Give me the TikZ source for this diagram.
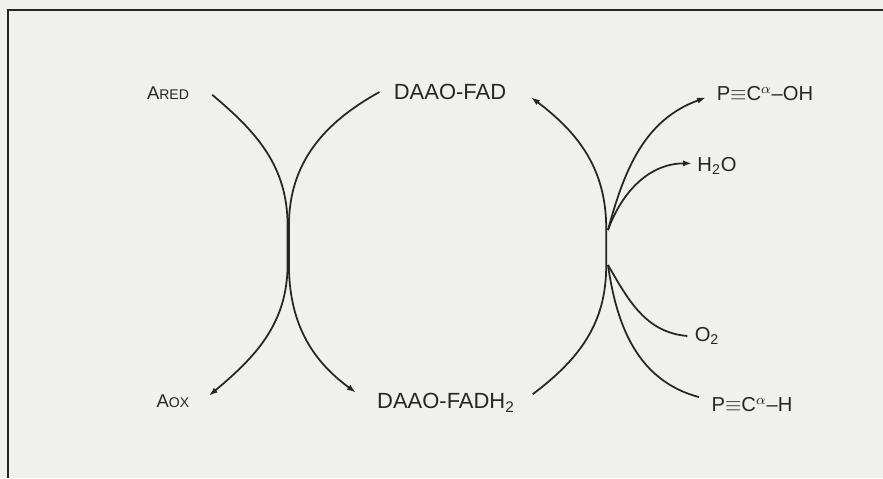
\documentclass[tikz,border=0pt]{standalone}
\usepackage{fontspec}
\setmainfont{Liberation Sans}
\usetikzlibrary{arrows.meta}
\definecolor{inkgray}{RGB}{38,38,38}
\definecolor{paper}{RGB}{240,240,238}
\tikzset{
  chem/.style={font=\fontsize{12.5}{14}\selectfont, text=inkgray, inner sep=1pt},
  side/.style={font=\fontsize{11.5}{13}\selectfont, text=inkgray, inner sep=1pt},
  redox/.style={font=\fontsize{10.5}{12}\selectfont, text=inkgray, inner sep=1pt},
  curve/.style={line width=1pt, draw=inkgray},
  flow/.style={curve, -{Latex[length=5pt,width=3.5pt]}},
  rim/.style={line width=1.3pt, draw=inkgray},
}
\newcommand{\smallcap}[1]{{\fontsize{8}{9}\selectfont #1}}

\begin{document}
\begin{tikzpicture}[x=0.02cm, y=-0.02cm]
    \fill[paper] (0,0) rectangle (883,478);
    \useasboundingbox (0,0) rectangle (883,478);
    \draw[rim] (8,478) -- (8,10) -- (883,10);

    % labels
    \node[redox] (ared) at (168,93) {A\smallcap{RED}};
    \node[redox] (aox) at (173,401) {A\smallcap{OX}};
    \node[chem] (fad) at (450,92) {DAAO-FAD};
    \node[chem] (fadh) at (446,403) {DAAO-FADH\textsubscript{2}};
    \node[side] (poh) at (765,94) {P$\equiv$C$^{\alpha}$–OH};
    \node[side] (water) at (717,166) {H\textsubscript{2}O};
    \node[side] (oxy) at (707,336) {O\textsubscript{2}};
    \node[side] (ph) at (752,405) {P$\equiv$C$^{\alpha}$–H};

    % the two pinch points
    \coordinate (lt) at (287.6,226); \coordinate (lb) at (287.6,264);
    \coordinate (mt) at (288.9,226); \coordinate (mb) at (288.9,264);
    \coordinate (rt) at (606.2,228); \coordinate (rb) at (606.2,266);
    \coordinate (pt) at (608,230); \coordinate (pb) at (608,265);

    % left couple
    \draw[flow] ([xshift=12pt,yshift=-1pt]ared.east) to[out=-40,in=90] (lt) -- (lb)
      to[out=-90,in=40] ([xshift=10pt,yshift=3pt]aox.east);
    \draw[flow] ([xshift=-7pt]fad.west) to[out=209,in=90] (mt) -- (mb)
      to[out=-90,in=144] ([xshift=-11pt,yshift=6pt]fadh.west);
    % right couple
    \draw[flow] ([xshift=9pt,yshift=5pt]fadh.east) to[out=37,in=-90] (rb) -- (rt)
      to[out=90,in=-37] ([xshift=13pt,yshift=-3pt]fad.east);
    \draw[flow] (pt) to[out=75,in=200] ([xshift=-5pt,yshift=-2pt]poh.west);
    \draw[flow] (pt) to[out=70,in=180] ([xshift=-2pt,yshift=1.5pt]water.west);
    \draw[curve] (pb) to[out=-60,in=175] ([xshift=-3pt]oxy.west);
    \draw[curve] (pb) to[out=-82,in=165] ([xshift=-6pt,yshift=4.5pt]ph.west);
  \end{tikzpicture}
\end{document}
